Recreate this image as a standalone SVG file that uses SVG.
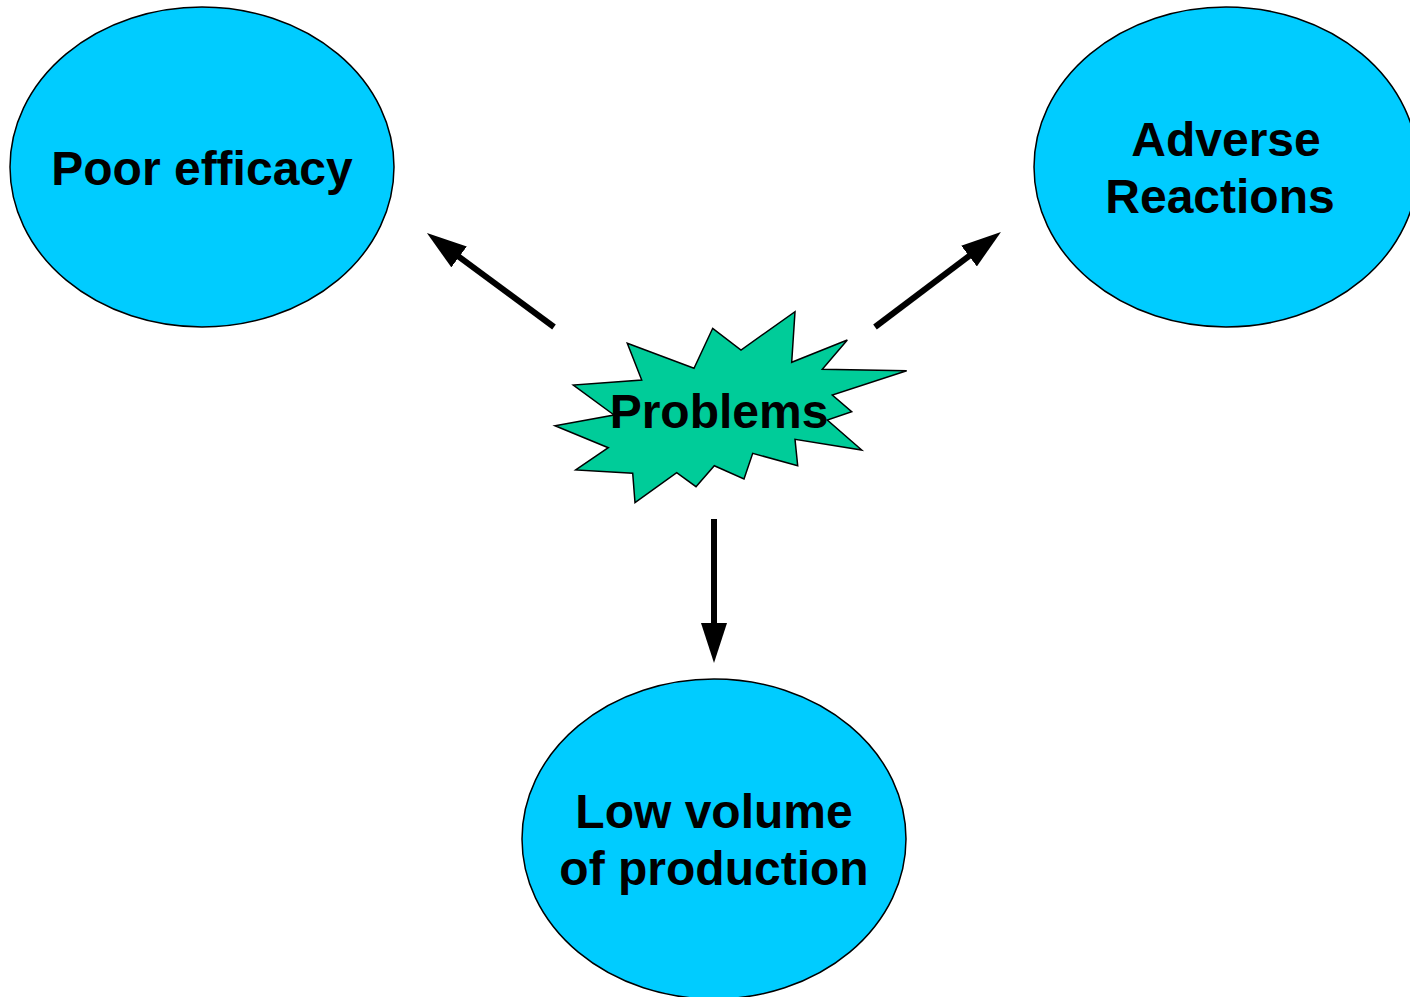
<svg xmlns="http://www.w3.org/2000/svg" width="1410" height="997" viewBox="0 0 1410 997">
<style>
.ell{fill:#00CCFF;stroke:#000;stroke-width:1.5}
.star{fill:#00CC99;stroke:#000;stroke-width:1.5}
.lbl{font-family:"Liberation Sans",Arial,sans-serif;font-weight:bold;font-size:48px;fill:#000;text-anchor:middle}
.conn{stroke:#000;stroke-width:6;fill:none;marker-end:url(#ah)}
</style>
<defs>
<marker id="ah" markerUnits="userSpaceOnUse" markerWidth="40" markerHeight="26" viewBox="0 0 40 26" refX="20" refY="13" orient="auto">
<path d="M0,0 L40,13 L0,26 z" fill="#000"/>
</marker>
</defs>
<rect width="1410" height="997" fill="#fff"/>
<g id="poor-efficacy">
<ellipse class="ell" cx="202" cy="167" rx="192" ry="160"/>
<text class="lbl" x="202" y="185">Poor efficacy</text>
</g>
<g id="adverse-reactions">
<ellipse class="ell" cx="1226" cy="167" rx="192" ry="160"/>
<text class="lbl" x="1226" y="156">Adverse</text>
<text class="lbl" x="1220" y="213">Reactions</text>
</g>
<g id="low-volume">
<ellipse class="ell" cx="714" cy="839" rx="192" ry="160"/>
<text class="lbl" x="714" y="828">Low volume</text>
<text class="lbl" x="714" y="885">of production</text>
</g>
<g id="problems">
<polygon class="star" points="627.3,343.3 694,368.3 712.7,328.3 741,350 795,311.7 791.7,362.3 847.3,340 822.3,369.3 906.7,370.7 832.3,395 851.7,411.7 827.3,420 861.7,450 795,439.3 797.7,465.7 752.7,453.3 744,479 714.3,465.7 696,486.7 676.7,472.7 635,502.7 632.7,473.3 575.7,470 608.3,447.7 555,425.7 614,415 573.3,385 641.7,380"/>
<text class="lbl" x="719" y="428">Problems</text>
</g>
<g id="connectors">
<line class="conn" x1="554" y1="327" x2="443" y2="245"/>
<line class="conn" x1="875" y1="327" x2="985" y2="244"/>
<line class="conn" x1="714" y1="519" x2="714" y2="643"/>
</g>
</svg>
